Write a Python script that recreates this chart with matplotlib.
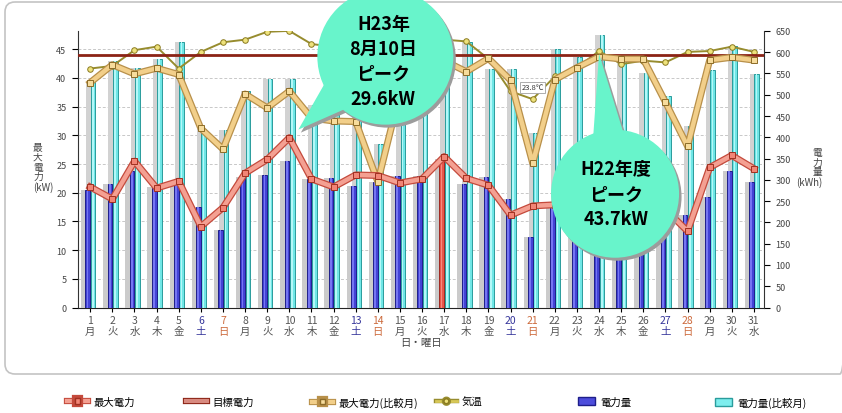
import matplotlib.pyplot as plt
import matplotlib.patheffects as pe
from matplotlib.patches import Ellipse, Polygon, FancyBboxPatch, Patch
from matplotlib.lines import Line2D
import numpy as np

plt.rcParams['font.family'] = ['Noto Sans CJK JP', 'DejaVu Sans']

# --- data (Aug, daily) ---
days = list(range(1, 32))
weekdays = ['月', '火', '水', '木', '金', '土', '日',
            '月', '火', '水', '木', '金', '土', '日',
            '月', '火', '水', '木', '金', '土', '日',
            '月', '火', '水', '木', '金', '土', '日',
            '月', '火', '水']
max_kw = [21.0, 18.9, 25.5, 20.8, 22.0, 14.1, 17.4, 23.4, 25.8, 29.6,
          22.4, 21.0, 23.1, 23.0, 21.7, 22.4, 26.3, 22.5, 21.3, 16.1,
          17.7, 17.9, 19.0, 20.5, 19.5, 19.5, 17.1, 13.3, 24.4, 26.5, 24.2]
prev_kw = [39.2, 42.3, 40.7, 41.7, 40.6, 31.2, 27.6, 37.2, 34.8, 37.7,
           33.0, 32.5, 32.4, 21.9, 37.4, 40.5, 43.0, 41.1, 43.4, 39.6,
           25.1, 39.7, 41.8, 43.7, 43.3, 43.3, 35.8, 28.1, 43.1, 43.6, 43.1]
temp_c = [27.3, 27.6, 29.4, 29.8, 27.3, 29.2, 30.3, 30.6, 31.5, 31.6,
          30.1, 29.8, 29.5, 29.3, 29.9, 30.4, 30.6, 30.4, 28.4, 24.7,
          23.8, 26.4, 27.4, 29.3, 27.8, 28.2, 28.0, 29.2, 29.3, 29.8, 29.2]
kwh = [276, 290, 321, 284, 291, 236, 182, 307, 312, 344,
       301, 305, 286, 295, 309, 309, 348, 290, 307, 255,
       166, 238, 260, 280, 270, 270, 230, 217, 260, 321, 296]
prev_kwh = [529, 579, 562, 585, 624, 419, 417, 509, 538, 536,
            476, 470, 450, 385, 500, 540, 560, 623, 560, 560,
            411, 607, 588, 640, 584, 550, 498, 427, 558, 615, 548]
target_kw = 44.0
highlight_day = 17
temp_note = (21, 23.8)
peak_now = (10, 29.6, ['H23年', '8月10日', 'ピーク', '29.6kW'])
peak_prev = (24, 43.7, ['H22年度', 'ピーク', '43.7kW'])

W, H = 842, 414
fig = plt.figure(figsize=(W / 100, H / 100), dpi=100)
L, R, T, B = 78.3, 764.3, 31.9, 308.5
rect = [L / W, 1 - B / H, (R - L) / W, (B - T) / H]
KW_TOP = 48.2

# left axis (kW) with grid
ax = fig.add_axes(rect)
ax.set_xlim(0.46, 31.47)
ax.set_ylim(0, KW_TOP)
ax.set_yticks(range(0, 50, 5))
ax.yaxis.grid(True, color='#c8c8c8', ls=(0, (3, 2)), lw=0.7)
ax.set_axisbelow(True)
for s in ['top', 'right']:
    ax.spines[s].set_visible(False)
ax.spines['left'].set_color('#333333')
ax.spines['bottom'].set_color('#222222')
ax.tick_params(axis='y', direction='out', length=4.5, width=0.8,
               labelsize=6.5, pad=4, labelcolor='#444444')
ax.tick_params(axis='x', direction='out', length=3.2, width=0.8,
               labelsize=7.5, pad=2.5)
ax.set_xticks(days)
ax.set_xticklabels([f'{d}\n{w}' for d, w in zip(days, weekdays)])
for lbl, w in zip(ax.get_xticklabels(), weekdays):
    lbl.set_linespacing(1.05)
    if w == '土':
        lbl.set_color('#34349a')
    elif w == '日':
        lbl.set_color('#cc6a3c')
    else:
        lbl.set_color('#555555')
ax.set_xlabel('日・曜日', fontsize=7.5, color='#444444', labelpad=1)

# right axis (kWh) with bars
axb = ax.twinx()
axb.set_ylim(0, 650)
axb.set_yticks(range(0, 651, 50))
for s in ['top', 'left', 'bottom']:
    axb.spines[s].set_visible(False)
axb.spines['right'].set_color('#333333')
axb.tick_params(axis='y', direction='out', length=4.5, width=0.8,
                labelsize=6.5, pad=3.5, labelcolor='#444444')

x = np.array(days)
bw = 0.21
blue_fc = ['#e8564a' if d == highlight_day else '#4343d6' for d in days]
blue_ec = ['#a02820' if d == highlight_day else '#1e1e8a' for d in days]
blue_hi = ['#f58a80' if d == highlight_day else '#7676f2' for d in days]
axb.bar(x + 0.13 - 0.2, prev_kwh, bw, color='#d2d2d2', lw=0)
axb.bar(x - 0.11 - 0.2, kwh, bw, color='#cbcbcb', lw=0)
axb.bar(x + 0.13, prev_kwh, bw, color='#6fe6e6', edgecolor='#2a9c9c', lw=0.7)
axb.bar(x + 0.12, prev_kwh, bw * 0.35, color='#b4f8f8', lw=0)
axb.bar(x - 0.11, kwh, bw, color=blue_fc, edgecolor=blue_ec, lw=0.7)
axb.bar(x - 0.12, kwh, bw * 0.35, color=blue_hi, lw=0)

# temperature (hidden scale)
axt = fig.add_axes(rect, sharex=ax)
axt.set_ylim(0, 31.6)
axt.axis('off')
axt.plot(x, temp_c, color='#978c2e', lw=1.4, marker='o', ms=4,
         mfc='#eee27c', mec='#8a7a20', mew=0.7)
axt.annotate(f'{temp_note[1]}℃', xy=temp_note, xytext=(0, 12),
             textcoords='offset pixels', ha='center', va='center',
             fontsize=5.5, color='#333333',
             bbox=dict(boxstyle='square,pad=0.2', fc='white', ec='#a0a0a0', lw=0.6))

# kW lines
axl = fig.add_axes(rect, sharex=ax)
axl.set_ylim(0, KW_TOP)
axl.axis('off')
axl.axhline(target_kw, color='#8b2315', lw=2)
axl.plot(x, prev_kw, color='#f2cf8a', lw=3.2,
         path_effects=[pe.Stroke(linewidth=5, foreground='#b8904a'), pe.Normal()])
axl.plot(x, prev_kw, ls='none', marker='s', ms=4.5, mfc='#f7dc9c', mec='#8c6c28', mew=0.7)
axl.plot(x, max_kw, color='#f4a092', lw=3.2,
         path_effects=[pe.Stroke(linewidth=5, foreground='#c44a3c'), pe.Normal()])
axl.plot(x, max_kw, ls='none', marker='s', ms=4.5, mfc='#f28576', mec='#a03020', mew=0.7)

# overlay in pixel coordinates for frame and callouts
ov = fig.add_axes([0, 0, 1, 1])
ov.set_xlim(0, W)
ov.set_ylim(H, 0)
ov.axis('off')
ov.add_patch(FancyBboxPatch((5, 3), 845, 372, boxstyle='round,pad=0,rounding_size=10',
                            fill=False, ec='#c4c4c4', lw=1.2, zorder=0))


def to_px(day, val):
    px, py = axl.transData.transform((day, val))
    return px, H - py


def bubble(tip, center, r, base1, base2, lines, y0, step, xoff=0):
    cx, cy = center
    for dx, dy, fc, z in [(2.5, 3, '#9c9c9c', 5), (0, 0, '#68f4cb', 6)]:
        ov.add_patch(Ellipse((cx + dx, cy + dy), 2 * r, 2 * r, fc=fc, ec='none', zorder=z))
        ov.add_patch(Polygon([(base1[0] + dx, base1[1] + dy), (tip[0] + dx, tip[1] + dy),
                              (base2[0] + dx, base2[1] + dy)], fc=fc, ec='none', zorder=z))
    for i, t in enumerate(lines):
        ov.text(cx + xoff, y0 + i * step, t, ha='center', va='center', fontsize=13,
                fontweight='bold', color='black', zorder=7)


# current-year peak callout
tx, ty = to_px(peak_now[0], peak_now[1])
tip1 = (tx + 9, ty - 8)
c1 = (tip1[0] + 87, tip1[1] - 73)
bubble(tip1, c1, 68, (c1[0] - 59, c1[1] + 24), (c1[0] - 35, c1[1] + 50),
       peak_now[2], c1[1] - 33, 25, xoff=-2)

# previous-year peak callout
tx, ty = to_px(peak_prev[0], peak_prev[1])
tip2 = (tx, ty - 3)
c2 = (tip2[0] + 16, tip2[1] + 140)
bubble(tip2, c2, 64, (c2[0] - 22, c2[1] - 55), (c2[0] + 9, c2[1] - 59),
       peak_prev[2], c2[1] - 25, 25, xoff=1)

# axis titles
fig.text(33 / W, 1 - 168 / H, '最\n大\n電\n力\n(kW)', ha='left', va='center',
         multialignment='left', fontsize=7, color='#444444', linespacing=0.95)
fig.text(822 / W, 1 - 168 / H, '電\n力\n量\n(kWh)', ha='right', va='center',
         multialignment='right', fontsize=7, color='#444444', linespacing=0.95)

# legend items
stroke = lambda c, w=4.5: [pe.Stroke(linewidth=w, foreground=c), pe.Normal()]
items = [
    (Line2D([], [], color='#f4a092', lw=3, marker='s', ms=4, mfc='#f28576',
            mec='#a03020', path_effects=stroke('#c44a3c')), '最大電力', 67),
    (Line2D([], [], color='#d88a80', lw=3, path_effects=stroke('#8b2315')), '目標電力', 186),
    (Line2D([], [], color='#f2cf8a', lw=3, marker='s', ms=4, mfc='#f7dc9c',
            mec='#8c6c28', path_effects=stroke('#b8904a')), '最大電力(比較月)', 312),
    (Line2D([], [], color='#d8c858', lw=2, marker='o', ms=3.5, mfc='#eee27c',
            mec='#8a7a20', path_effects=stroke('#978c2e', 3.2)), '気温', 436),
    (Patch(fc='#4d4ddc', ec='#1e1e8a'), '電力量', 578),
    (Patch(fc='#7eeeee', ec='#2a9c9c'), '電力量(比較月)', 715),
]
for h, lab, px in items:
    is_patch = isinstance(h, Patch)
    fig.legend([h], [lab], loc='center left', bbox_to_anchor=(px / W, 1 - 403 / H),
               frameon=False, fontsize=7.5, handlelength=1.6 if is_patch else 2.0,
               handleheight=0.8, handletextpad=0.5, borderpad=0, borderaxespad=0)

fig.savefig('out.png', dpi=100)
